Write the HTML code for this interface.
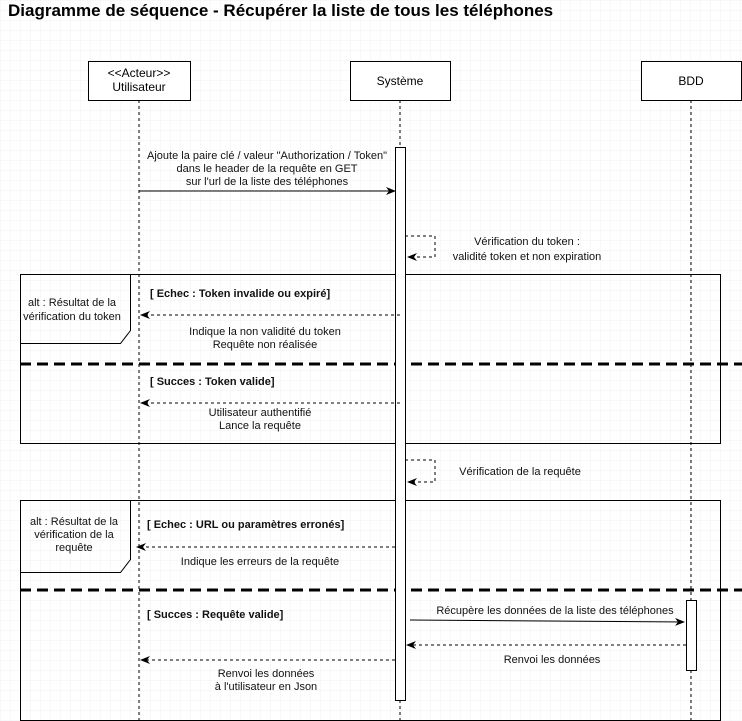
<!DOCTYPE html>
<html><head><meta charset="utf-8"><style>
html,body{margin:0;padding:0;background:#fff;}
svg{display:block;font-family:"Liberation Sans",Arial,sans-serif;}
</style></head><body>
<svg width="742" height="721" viewBox="0 0 742 721" xmlns="http://www.w3.org/2000/svg">
<defs>
<pattern id="g" width="10" height="10" patternUnits="userSpaceOnUse">
<path d="M10 0H0V10" fill="none" stroke="#eef0f4" stroke-width="1"/>
</pattern>
<marker id="a" markerWidth="10" markerHeight="8" refX="9" refY="4" orient="auto" markerUnits="userSpaceOnUse">
<path d="M0,0 L10,4 L0,8 L3,4 z" fill="#000"/>
</marker>
</defs>
<rect width="742" height="721" fill="url(#g)"/>
<text x="8" y="16" font-size="17" font-weight="bold">Diagramme de séquence - Récupérer la liste de tous les téléphones</text>

<g stroke="#000" stroke-dasharray="3,3" fill="none">
<line x1="139" y1="100" x2="139" y2="721"/>
<line x1="400" y1="100" x2="400" y2="721"/>
<line x1="691" y1="100" x2="691" y2="721"/>
</g>
<g fill="#fff" stroke="#000">
<rect x="88.5" y="61.5" width="102" height="39"/>
<rect x="350.5" y="61.5" width="100" height="39"/>
<rect x="641.5" y="61.5" width="100" height="39"/>
</g>
<g font-size="12" text-anchor="middle">
<text x="139" y="77">&lt;&lt;Acteur&gt;&gt;</text>
<text x="139" y="91">Utilisateur</text>
<text x="400" y="85">Système</text>
<text x="691" y="85">BDD</text>
</g>

<g fill="none" stroke="#000">
<rect x="20.5" y="274.5" width="700" height="169"/>
<path d="M20.5 343.5H120.5L130.5 330.5V274.5"/>
<rect x="20.5" y="500.5" width="700" height="220"/>
<path d="M20.5 572.5H120.5L130.5 559.5V500.5"/>
</g>
<g stroke="#000" stroke-width="3" stroke-dasharray="11,6">
<line x1="20" y1="364" x2="742" y2="364"/>
<line x1="20" y1="590" x2="742" y2="590"/>
</g>

<rect x="395.5" y="147.5" width="10" height="553" fill="#fff" stroke="#000"/>
<rect x="686.5" y="600.5" width="10" height="70" fill="#fff" stroke="#000"/>

<g stroke="#000" fill="none">
<line x1="139" y1="191" x2="395" y2="191" marker-end="url(#a)"/>
<path d="M405 236H435V257H408" stroke-dasharray="3,3" marker-end="url(#a)"/>
<line x1="400" y1="315" x2="141" y2="315" stroke-dasharray="3,3" marker-end="url(#a)"/>
<line x1="400" y1="403" x2="141" y2="403" stroke-dasharray="3,3" marker-end="url(#a)"/>
<path d="M405 460H435V482H408" stroke-dasharray="3,3" marker-end="url(#a)"/>
<line x1="395" y1="547" x2="137" y2="547" stroke-dasharray="3,3" marker-end="url(#a)"/>
<line x1="410" y1="620" x2="684" y2="622" marker-end="url(#a)"/>
<line x1="686" y1="645" x2="407" y2="645" stroke-dasharray="3,3" marker-end="url(#a)"/>
<line x1="395" y1="660" x2="141" y2="660" stroke-dasharray="3,3" marker-end="url(#a)"/>
</g>

<g font-size="11" text-anchor="middle" fill="#111">
<text x="267" y="159">Ajoute la paire clé / valeur "Authorization / Token"</text>
<text x="267" y="172">dans le header de la requête en GET</text>
<text x="267" y="185">sur l'url de la liste des téléphones</text>
<text x="527" y="245">Vérification du token :</text>
<text x="527" y="260">validité token et non expiration</text>
<text x="72" y="306">alt : Résultat de la</text>
<text x="72" y="320">vérification du token</text>
<text x="265" y="335">Indique la non validité du token</text>
<text x="265" y="348">Requête non réalisée</text>
<text x="260" y="416">Utilisateur authentifié</text>
<text x="260" y="429">Lance la requête</text>
<text x="520" y="475">Vérification de la requête</text>
<text x="74" y="525">alt : Résultat de la</text>
<text x="74" y="538">vérification de la</text>
<text x="74" y="551">requête</text>
<text x="260" y="565">Indique les erreurs de la requête</text>
<text x="555" y="614">Récupère les données de la liste des téléphones</text>
<text x="552" y="663">Renvoi les données</text>
<text x="266" y="677">Renvoi les données</text>
<text x="266" y="690">à l'utilisateur en Json</text>
</g>
<g font-size="11" font-weight="bold" fill="#111">
<text x="150" y="297">[ Echec : Token invalide ou expiré]</text>
<text x="150" y="385">[ Succes : Token valide]</text>
<text x="147" y="528">[ Echec : URL ou paramètres erronés]</text>
<text x="147" y="618">[ Succes : Requête valide]</text>
</g>
</svg>
</body></html>
